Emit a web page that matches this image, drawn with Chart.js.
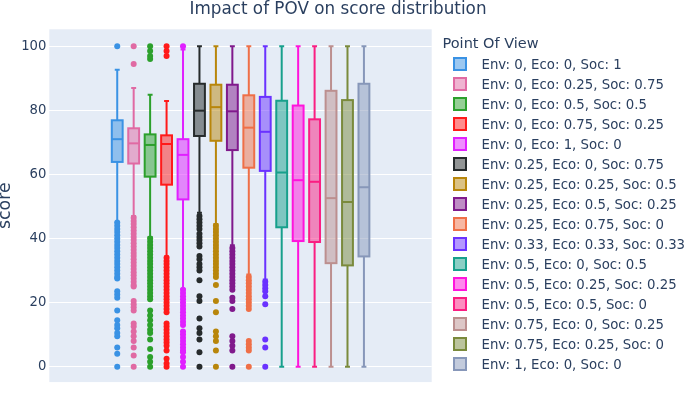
<!DOCTYPE html>
<html>
<head>
<meta charset="utf-8">
<title>Impact of POV on score distribution</title>
<script src="https://cdn.jsdelivr.net/npm/chart.js@4.4.1/dist/chart.umd.min.js"></script>
<style>
  html, body { margin: 0; padding: 0; background: #fff; }
  #chart { display: block; }
</style>
</head>
<body>
<canvas id="chart" width="685" height="393"></canvas>
<script>
// One box per point of view (Env / Eco / Soc weights)
const povLabels = [
    "Env: 0, Eco: 0, Soc: 1",
    "Env: 0, Eco: 0.25, Soc: 0.75",
    "Env: 0, Eco: 0.5, Soc: 0.5",
    "Env: 0, Eco: 0.75, Soc: 0.25",
    "Env: 0, Eco: 1, Soc: 0",
    "Env: 0.25, Eco: 0, Soc: 0.75",
    "Env: 0.25, Eco: 0.25, Soc: 0.5",
    "Env: 0.25, Eco: 0.5, Soc: 0.25",
    "Env: 0.25, Eco: 0.75, Soc: 0",
    "Env: 0.33, Eco: 0.33, Soc: 0.33",
    "Env: 0.5, Eco: 0, Soc: 0.5",
    "Env: 0.5, Eco: 0.25, Soc: 0.25",
    "Env: 0.5, Eco: 0.5, Soc: 0",
    "Env: 0.75, Eco: 0, Soc: 0.25",
    "Env: 0.75, Eco: 0.25, Soc: 0",
    "Env: 1, Eco: 0, Soc: 0"
];

// box statistics (score)
const whiskerLow  = [45, 47, 40.5, 34.4, 24.2, 48, 44.5, 37.9, 28.8, 27.2, 0, 0, 0, 0, 0, 0];
const q1Values    = [63.9, 63.4, 59.3, 56.8, 52.2, 72.0, 70.5, 67.6, 62.1, 61.1, 43.5, 39.2, 38.9, 32.3, 31.6, 34.4];
const medianValues = [71.0, 69.7, 69.2, 69.5, 66.1, 79.9, 81.0, 79.7, 74.6, 73.3, 60.6, 58.2, 57.7, 52.6, 51.4, 56.0];
const q3Values    = [76.9, 74.4, 72.5, 72.2, 71.0, 88.3, 88.0, 88.0, 84.7, 84.2, 83.0, 81.5, 77.2, 86.1, 83.2, 88.3];
const whiskerHigh = [92.7, 87, 84.9, 82.9, 99, 100, 100, 100, 100, 100, 100, 100, 100, 100, 100, 100];

// outlier points per box
const outliers = [
    [100, 45, 44, 43, 42, 41, 40, 39, 38, 37, 36, 35, 34, 33, 32, 31, 30, 29, 28, 27.5, 23.5, 22.5, 21.5, 17.5, 14.5, 13, 12, 10.5, 9.5, 6, 4, 0],
    [100, 94.5, 46.5, 45.5, 44.5, 43.5, 42.5, 41.5, 40.5, 39.5, 38.5, 37.5, 36.5, 35.5, 34.5, 33.5, 32.5, 31.5, 30.5, 29.5, 28.5, 27.5, 26.5, 25.5, 25, 20.5, 19.5, 18.5, 17.5, 13.5, 12.5, 11, 9.5, 8, 6, 3.5, 0],
    [100, 98.5, 97, 96, 40, 39, 38, 37, 36, 35, 34, 33, 32, 31, 30, 29, 28, 27, 26, 25, 24, 23, 22, 21, 17.5, 16, 14.5, 13, 11.5, 10.5, 8.5, 5.5, 3, 1.5, 0],
    [100, 98.5, 97, 34, 33, 32, 31, 30, 29, 28, 27, 26, 25, 24, 23, 22, 21, 20, 19, 18, 17, 13.5, 12.5, 11.5, 10.5, 9.5, 8.5, 7.5, 6.5, 5, 2.5, 1, 0],
    [100, 24, 23, 22, 21, 20, 19, 18, 17, 16, 15, 14, 13, 11, 10, 9, 8, 7, 6, 5, 4.5, 3, 1.5, 0],
    [47, 46, 45, 44, 43, 41.5, 40.5, 39.5, 38.5, 37.5, 34.5, 33.5, 32, 31, 30, 27, 22, 20.5, 15, 12, 10.5, 8.5, 4.5, 0],
    [44, 43, 42, 41, 40, 39, 38, 37, 36, 35, 34, 33, 32, 31, 30, 29, 28, 25.5, 20.5, 17, 11, 9.5, 8, 5, 0],
    [37, 36, 35, 34, 33, 32, 31, 30, 29, 28, 27, 26, 25, 24, 21.5, 20.5, 18, 9.5, 8, 6.5, 5, 0],
    [28, 27, 26, 25, 24, 23, 22, 21, 20, 19, 18, 8, 7, 6, 5, 0],
    [26.5, 25.5, 24.5, 23.5, 22, 19.5, 8.5, 6, 0],
    [], [], [], [], [], []
];

const yTicks = [0, 20, 40, 60, 80, 100];

const povColors = [
    "#3a92e4", "#e06aa3", "#2ca02c", "#ff1a1a", "#e020ff", "#262b2c",
    "#b8860b", "#801a8c", "#ef6f47", "#6a32ff", "#17a08c", "#ff14dc",
    "#fa1e82", "#bc8f8f", "#7a8a3c", "#8797b9"
];

const fontFamily = '"DejaVu Sans", Verdana, sans-serif';
const textColor = "#2a3f5f";

function withAlpha(hex, a) {
    const n = parseInt(hex.slice(1), 16);
    return `rgba(${(n >> 16) & 255}, ${(n >> 8) & 255}, ${n & 255}, ${a})`;
}

// plot background
const plotBackground = {
    id: 'plotBackground',
    beforeDraw(chart) {
        const {ctx, chartArea} = chart;
        ctx.save();
        ctx.fillStyle = "#e5ecf6";
        ctx.fillRect(chartArea.left, chartArea.top, chartArea.width, chartArea.height);
        ctx.restore();
    }
};

// boxes, medians and whiskers, placed with the chart scales
const boxes = {
    id: 'boxes',
    beforeDatasetsDraw(chart) {
        const {ctx, scales: {x, y}} = chart;
        const slot = x.getPixelForValue(1) - x.getPixelForValue(0);
        const half = slot * 0.33;
        const cap = slot * 0.15;
        ctx.save();
        ctx.lineWidth = 2;
        povLabels.forEach((label, i) => {
            const cx = x.getPixelForValue(i);
            const yHi = y.getPixelForValue(whiskerHigh[i]);
            const yLo = y.getPixelForValue(whiskerLow[i]);
            const yQ3 = y.getPixelForValue(q3Values[i]);
            const yQ1 = y.getPixelForValue(q1Values[i]);
            const yMed = y.getPixelForValue(medianValues[i]);

            ctx.strokeStyle = povColors[i];
            ctx.beginPath();
            ctx.moveTo(cx, yHi); ctx.lineTo(cx, yQ3);
            ctx.moveTo(cx, yQ1); ctx.lineTo(cx, yLo);
            ctx.moveTo(cx - cap, yHi); ctx.lineTo(cx + cap, yHi);
            ctx.moveTo(cx - cap, yLo); ctx.lineTo(cx + cap, yLo);
            ctx.stroke();

            ctx.fillStyle = withAlpha(povColors[i], 0.5);
            ctx.fillRect(cx - half, yQ3, 2 * half, yQ1 - yQ3);
            ctx.strokeRect(cx - half, yQ3, 2 * half, yQ1 - yQ3);

            ctx.beginPath();
            ctx.moveTo(cx - half, yMed); ctx.lineTo(cx + half, yMed);
            ctx.stroke();
        });
        ctx.restore();
    }
};

// title over the whole figure and the legend at the right, like the plotly ones
const povLegend = {
    id: 'povLegend',
    afterDraw(chart) {
        const {ctx} = chart;
        ctx.save();
        ctx.textBaseline = "alphabetic";
        ctx.fillStyle = textColor;
        ctx.textAlign = "center";
        ctx.font = `16.8px ${fontFamily}`;
        ctx.fillText("Impact of POV on score distribution", 338, 13.5);

        ctx.textAlign = "left";
        ctx.font = `14.5px ${fontFamily}`;
        ctx.fillText("Point Of View", 442.5, 47.7);
        ctx.font = `13.3px ${fontFamily}`;
        ctx.lineWidth = 2;
        povLabels.forEach((label, i) => {
            const rowY = 64 + i * 20;
            ctx.fillStyle = withAlpha(povColors[i], 0.5);
            ctx.strokeStyle = povColors[i];
            ctx.fillRect(454, rowY - 6, 12, 12);
            ctx.strokeRect(454, rowY - 6, 12, 12);
            ctx.fillStyle = textColor;
            ctx.fillText(label, 481.5, rowY + 4.5);
        });
        ctx.restore();
    }
};

const datasets = povLabels.map((label, i) => ({
    label: label,
    data: outliers[i].map(v => ({x: i, y: v})),
    backgroundColor: povColors[i],
    borderWidth: 0,
    pointRadius: 3,
    pointHoverRadius: 3
}));

new Chart(document.getElementById("chart"), {
    type: "scatter",
    data: { datasets: datasets },
    plugins: [plotBackground, boxes, povLegend],
    options: {
        responsive: false,
        animation: false,
        devicePixelRatio: 1,
        layout: { padding: { left: 0, right: 253.3, top: 29.3, bottom: 3 } },
        plugins: {
            legend: { display: false },
            tooltip: { enabled: false },
            title: { display: false }
        },
        scales: {
            x: {
                type: "linear",
                display: false,
                min: -4.13,
                max: 19.12
            },
            y: {
                min: -4.82,
                max: 105.3,
                afterBuildTicks: (scale) => {
                    scale.ticks = yTicks.map(v => ({value: v}));
                },
                afterFit: (scale) => {
                    scale.width = 49.3;
                },
                grid: { color: "#ffffff", lineWidth: 1, drawTicks: false },
                border: { display: false },
                ticks: {
                    color: textColor,
                    padding: 3,
                    font: { family: fontFamily, size: 13.2 }
                },
                title: {
                    display: true,
                    text: "score",
                    color: textColor,
                    padding: { top: -4.5 },
                    font: { family: fontFamily, size: 17.3 }
                }
            }
        }
    }
});
</script>
</body>
</html>
